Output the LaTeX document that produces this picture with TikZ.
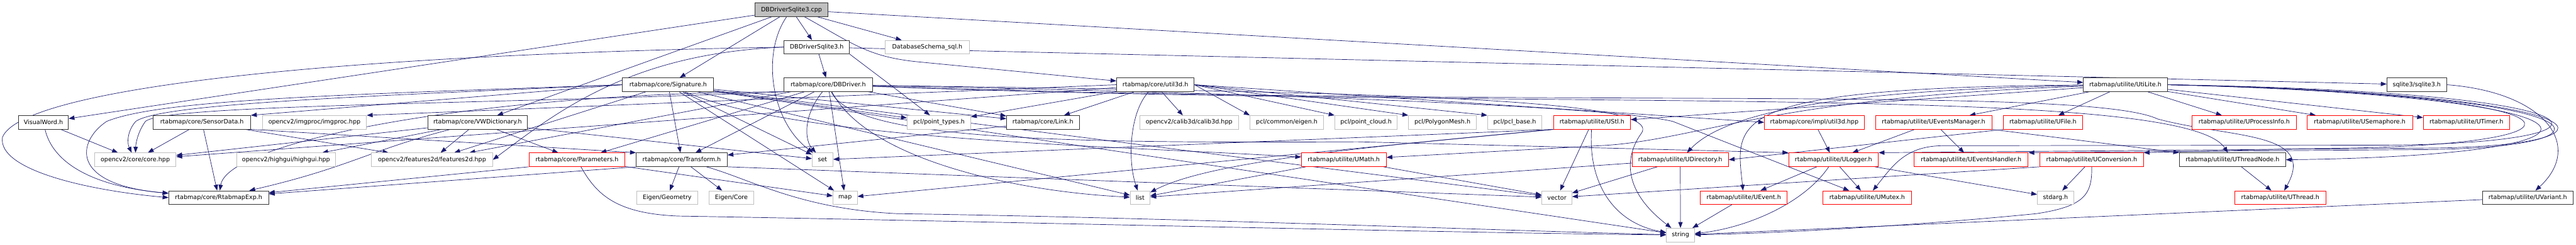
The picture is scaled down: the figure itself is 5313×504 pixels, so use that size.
\documentclass[tikz,border=0pt]{standalone}
\usepackage{fontspec}
\setmainfont{DejaVu Sans}
\usetikzlibrary{arrows.meta,backgrounds}
\definecolor{edgeblue}{HTML}{191970}
\definecolor{sysgray}{HTML}{BFBFBF}
\definecolor{rootgray}{HTML}{BFBFBF}

\begin{document}
\begin{tikzpicture}[
    x=1pt, y=-1pt,
    hdrbox/.style={rectangle, draw, line width=1.1pt, fill=white, inner sep=0pt, minimum height=28pt, font=\fontsize{12.4}{14}\selectfont},
    dochdr/.style={hdrbox, draw=black!80},
    roothdr/.style={hdrbox, draw=black!80, fill=rootgray},
    syshdr/.style={hdrbox, draw=sysgray},
    cuthdr/.style={hdrbox, draw=red},
    incl/.style={-{Triangle[length=12pt,width=9pt]}, draw=edgeblue, line width=0.9pt}
]
\useasboundingbox (0,0) rectangle (5313,504);

% Source file and its own headers
\node[roothdr, minimum width=151pt] (cpp) at (1632.5,20) {DBDriverSqlite3.cpp};
\node[dochdr, minimum width=135pt] (dbsqliteh) at (1684.5,97) {DBDriverSqlite3.h};
\node[syshdr, minimum width=175pt] (schema) at (1912.5,97) {DatabaseSchema\_sql.h};

% Second level
\node[dochdr, minimum width=188pt] (signature) at (1378,174.5) {rtabmap/core/Signature.h};
\node[dochdr, minimum width=182pt] (dbdriver) at (1708,174.5) {rtabmap/core/DBDriver.h};
\node[dochdr, minimum width=160pt] (util3d) at (2383,174.5) {rtabmap/core/util3d.h};
\node[dochdr, minimum width=173pt] (utilite) at (4383.5,174.5) {rtabmap/utilite/UtiLite.h};
\node[dochdr, minimum width=123pt] (sqlite3) at (4984.5,174.5) {sqlite3/sqlite3.h};

% Third level
\node[dochdr, minimum width=103pt] (visualword) at (89.5,252) {VisualWord.h};
\node[dochdr, minimum width=201pt] (sensordata) at (416.5,252) {rtabmap/core/SensorData.h};
\node[syshdr, minimum width=215pt] (imgproc) at (648.5,252) {opencv2/imgproc/imgproc.hpp};
\node[dochdr, minimum width=206pt] (vwdict) at (985,252) {rtabmap/core/VWDictionary.h};
\node[syshdr, minimum width=131pt] (pointtypes) at (1936.5,252) {pcl/point\_types.h};
\node[dochdr, minimum width=150pt] (link) at (2151,252) {rtabmap/core/Link.h};
\node[syshdr, minimum width=203pt] (calib3d) at (2452.5,252) {opencv2/calib3d/calib3d.hpp};
\node[syshdr, minimum width=152pt] (pcleigen) at (2654,252) {pcl/common/eigen.h};
\node[syshdr, minimum width=129pt] (pointcloud) at (2817.5,252) {pcl/point\_cloud.h};
\node[syshdr, minimum width=140pt] (polymesh) at (2975,252) {pcl/PolygonMesh.h};
\node[syshdr, minimum width=112pt] (pclbase) at (3124,252) {pcl/pcl\_base.h};
\node[cuthdr, minimum width=159pt] (ustl) at (3283.5,252) {rtabmap/utilite/UStl.h};
\node[cuthdr, minimum width=206pt] (implutil3d) at (3742,252) {rtabmap/core/impl/util3d.hpp};
\node[cuthdr, minimum width=240pt] (ueventsmanager) at (3988,252) {rtabmap/utilite/UEventsManager.h};
\node[cuthdr, minimum width=163pt] (ufile) at (4213.5,252) {rtabmap/utilite/UFile.h};
\node[cuthdr, minimum width=215pt] (uprocessinfo) at (4628.5,252) {rtabmap/utilite/UProcessInfo.h};
\node[cuthdr, minimum width=218pt] (usemaphore) at (4867,252) {rtabmap/utilite/USemaphore.h};
\node[cuthdr, minimum width=178pt] (utimer) at (5087,252) {rtabmap/utilite/UTimer.h};

% Fourth level
\node[syshdr, minimum width=168pt] (corehpp) at (279,329) {opencv2/core/core.hpp};
\node[syshdr, minimum width=204pt] (highgui) at (590,329) {opencv2/highgui/highgui.hpp};
\node[syshdr, minimum width=250pt] (features2d) at (891,329) {opencv2/features2d/features2d.hpp};
\node[cuthdr, minimum width=198pt] (parameters) at (1190,329) {rtabmap/core/Parameters.h};
\node[dochdr, minimum width=188pt] (transform) at (1406,329) {rtabmap/core/Transform.h};
\node[syshdr, minimum width=43pt] (set) at (1696.5,329) {set};
\node[cuthdr, minimum width=175pt] (umath) at (2771.5,329) {rtabmap/utilite/UMath.h};
\node[cuthdr, minimum width=199pt] (udirectory) at (3465.5,329) {rtabmap/utilite/UDirectory.h};
\node[cuthdr, minimum width=185pt] (ulogger) at (3781.5,329) {rtabmap/utilite/ULogger.h};
\node[cuthdr, minimum width=235pt] (ueventshandler) at (4065.5,329) {rtabmap/utilite/UEventsHandler.h};
\node[cuthdr, minimum width=214pt] (uconversion) at (4314,329) {rtabmap/utilite/UConversion.h};
\node[dochdr, minimum width=219pt] (uthreadnode) at (4604.5,329) {rtabmap/utilite/UThreadNode.h};

% Fifth level
\node[dochdr, minimum width=206pt] (rtabmapexp) at (451,407) {rtabmap/core/RtabmapExp.h};
\node[syshdr, minimum width=126pt] (eigengeom) at (1376,407) {Eigen/Geometry};
\node[syshdr, minimum width=91pt] (eigencore) at (1508.5,407) {Eigen/Core};
\node[syshdr, minimum width=50pt] (map) at (1743,407) {map};
\node[syshdr, minimum width=41pt] (list) at (2351.5,407) {list};
\node[syshdr, minimum width=62pt] (vector) at (3211,407) {vector};
\node[cuthdr, minimum width=179pt] (uevent) at (3596.5,407) {rtabmap/utilite/UEvent.h};
\node[cuthdr, minimum width=182pt] (umutex) at (3851,407) {rtabmap/utilite/UMutex.h};
\node[syshdr, minimum width=75pt] (stdarg) at (4239.5,407) {stdarg.h};
\node[cuthdr, minimum width=188pt] (uthread) at (4703,407) {rtabmap/utilite/UThread.h};
\node[dochdr, minimum width=187pt] (uvariant) at (5213.5,407) {rtabmap/utilite/UVariant.h};

% Last level
\node[syshdr, minimum width=58pt] (string) at (3466,484) {string};

\begin{scope}[on background layer]
\fill[white] (0,0) rectangle (5313,504);

% Includes of the source file
\draw[incl] (cpp) -- (dbsqliteh);
\draw[incl] (cpp) -- (schema);
\draw[incl] (cpp) -- (signature);
\draw[incl] (cpp) -- (visualword);
\draw[incl] (cpp) -- (vwdict);
\draw[incl] (cpp) .. controls (1570,110) and (1590,250) .. (set);
\draw[incl] (cpp) .. controls (1760,90) and (1790,118) .. (1900,128) -- (util3d);
\draw[incl] (cpp) -- (utilite);

% DBDriverSqlite3.h
\draw[incl] (dbsqliteh) -- (dbdriver);
\draw[incl] (dbsqliteh) -- (sqlite3);
\draw[incl] (dbsqliteh.south east) .. controls (1790,140) and (1870,200) .. (pointtypes);
\draw[incl] (dbsqliteh.west) .. controls (1300,110) and (1150,230) .. (features2d.east);
\draw[incl] (dbsqliteh.west) .. controls (600,115) and (40,190) .. (5,283) .. controls (-5,350) and (180,392) .. (rtabmapexp.west);

% Signature.h
\draw[incl] (signature.west) .. controls (700,195) and (330,205) .. (220,250) .. controls (160,290) and (140,380) .. (rtabmapexp);
\draw[incl] (signature.west) .. controls (700,200) and (330,215) .. (280,250) .. controls (262,270) and (262,295) .. (corehpp);
\draw[incl] (signature.west) -- (sensordata.north east);
\draw[incl] (signature) -- (features2d);
\draw[incl] (signature) -- (pointtypes);
\draw[incl] (signature) -- (link);
\draw[incl] (signature) -- (transform);
\draw[incl] (signature) -- (set);
\draw[incl] (signature) -- (map);
\draw[incl] (signature) -- (list);
\draw[incl] (signature) -- (vector);
\draw[incl] (signature) -- (string);
\draw[incl] (signature) .. controls (1650,290) and (2300,300) .. (umath);

% DBDriver.h
\draw[incl] (dbdriver.south west) .. controls (1000,190) and (470,290) .. (rtabmapexp);
\draw[incl] (dbdriver.south west) .. controls (1000,215) and (340,215) .. (300,250) .. controls (285,270) and (280,295) .. (corehpp);
\draw[incl] (dbdriver) -- (features2d);
\draw[incl] (dbdriver) -- (parameters);
\draw[incl] (dbdriver) -- (transform);
\draw[incl] (dbdriver) .. controls (1655,240) and (1660,290) .. (set);
\draw[incl] (dbdriver) -- (map);
\draw[incl] (dbdriver) .. controls (1790,330) and (2100,395) .. (list);
\draw[incl] (dbdriver) -- (link);
\draw[incl] (dbdriver) .. controls (1760,290) and (2200,295) .. (2800,292) -- (ulogger.north west);
\draw[incl] (dbdriver) .. controls (2500,190) and (3300,215) .. (3450,250) -- (umutex);
\draw[incl] (dbdriver) .. controls (3200,230) and (4500,170) .. (uthreadnode);
\draw[incl] (dbdriver) .. controls (3200,225) and (4300,175) .. (4450,245) .. controls (4600,285) and (4780,270) .. (uthread);
\draw[incl] (dbdriver) .. controls (2800,190) and (3440,200) .. (3385,275) .. controls (3363,305) and (3330,380) .. (string);

% util3d.h
\draw[incl] (util3d) -- (corehpp);
\draw[incl] (util3d.west) -- (imgproc.north east);
\draw[incl] (util3d) -- (pointtypes);
\draw[incl] (util3d) -- (link);
\draw[incl] (util3d) -- (calib3d);
\draw[incl] (util3d.east) -- (pcleigen.north west);
\draw[incl] (util3d.east) -- (pointcloud.north west);
\draw[incl] (util3d.east) -- (polymesh.north west);
\draw[incl] (util3d.east) -- (pclbase.north west);
\draw[incl] (util3d.east) -- (implutil3d.west);
\draw[incl] (util3d) .. controls (2330,230) and (2325,330) .. (list);

% Other core headers
\draw[incl] (visualword) -- (corehpp);
\draw[incl] (visualword) .. controls (110,340) and (200,385) .. (rtabmapexp);
\draw[incl] (sensordata) -- (corehpp);
\draw[incl] (sensordata) -- (rtabmapexp);
\draw[incl] (sensordata) -- (features2d);
\draw[incl] (sensordata.south east) -- (transform.north west);
\draw[incl] (vwdict) -- (features2d);
\draw[incl] (vwdict) -- (parameters);
\draw[incl] (vwdict) -- (highgui);
\draw[incl] (vwdict) -- (corehpp);
\draw[incl] (vwdict) .. controls (760,310) and (720,345) .. (rtabmapexp);
\draw[incl] (vwdict) -- (set);
\draw[incl] (parameters.south west) -- (rtabmapexp);
\draw[incl] (parameters) -- (map);
\draw[incl] (parameters) .. controls (1230,400) and (1270,440) .. (1400,445) .. controls (2000,455) and (3000,480) .. (string);
\draw[incl] (transform) -- (eigengeom);
\draw[incl] (transform) -- (eigencore);
\draw[incl] (transform.south west) -- (rtabmapexp);
\draw[incl] (transform.south east) -- (vector);
\draw[incl] (transform) .. controls (1550,370) and (1650,430) .. (1850,440) .. controls (2400,448) and (3100,475) .. (string);
\draw[incl] (link) -- (transform);

% utilite headers
\draw[incl] (ustl) -- (vector);
\draw[incl] (ustl) .. controls (3275,380) and (3330,460) .. (string);
\draw[incl] (ustl.south west) .. controls (2850,300) and (2500,330) .. (list);
\draw[incl] (ustl.south west) -- (map);
\draw[incl] (ustl.south west) -- (set);
\draw[incl] (umath) -- (list);
\draw[incl] (umath) -- (vector);
\draw[incl] (udirectory) -- (string);
\draw[incl] (udirectory) -- (vector);
\draw[incl] (udirectory) -- (list);
\draw[incl] (uevent) -- (string);
\draw[incl] (ulogger) -- (uevent);
\draw[incl] (ulogger) -- (umutex);
\draw[incl] (ulogger) .. controls (3720,420) and (3600,470) .. (string);
\draw[incl] (ulogger) -- (stdarg);
\draw[incl] (implutil3d) -- (ulogger);
\draw[incl] (ueventsmanager) -- (ueventshandler);
\draw[incl] (ueventsmanager) -- (ulogger);
\draw[incl] (ueventsmanager.south east) -- (uthreadnode.north west);
\draw[incl] (ufile.south west) -- (udirectory.east);
\draw[incl] (uconversion) -- (stdarg);
\draw[incl] (uconversion) .. controls (4315,400) and (4300,425) .. (4200,440) .. controls (4000,460) and (3700,480) .. (string);
\draw[incl] (uconversion.south west) -- (vector);
\draw[incl] (uthreadnode) -- (uthread);
\draw[incl] (uvariant) -- (string);
\draw[incl] (sqlite3.east) .. controls (5250,190) and (5330,300) .. (uvariant);

% UtiLite.h
\draw[incl] (utilite) -- (ueventsmanager);
\draw[incl] (utilite) -- (ufile);
\draw[incl] (utilite) -- (uprocessinfo);
\draw[incl] (utilite) -- (usemaphore);
\draw[incl] (utilite) -- (utimer);
\draw[incl] (utilite) -- (ustl);
\draw[incl] (utilite) .. controls (3800,185) and (3560,230) .. (udirectory);
\draw[incl] (utilite) .. controls (3550,180) and (3580,250) .. (uevent);
\draw[incl] (utilite) .. controls (3650,200) and (3500,290) .. (3300,300) -- (umath);
\draw[incl] (utilite.east) .. controls (5450,200) and (5450,320) .. (uthreadnode.east);
\draw[incl] (utilite.east) .. controls (5400,195) and (5400,305) .. (4750,306) -- (uconversion.north east);
\draw[incl] (utilite.east) .. controls (5420,195) and (5420,305) .. (5000,308) -- (ueventshandler.north east);
\draw[incl] (utilite.east) .. controls (5430,195) and (5430,303) .. (5000,305) -- (ulogger.north east);
\draw[incl] (utilite.east) .. controls (5440,190) and (5440,298) .. (4900,299) -- (4010,300) .. controls (3930,300) and (3905,340) .. (umutex);
\end{scope}

\end{tikzpicture}
\end{document}
